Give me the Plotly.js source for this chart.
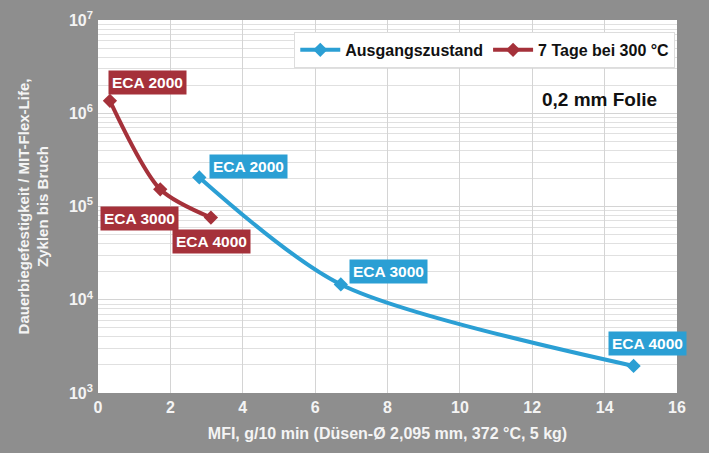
<!DOCTYPE html>
<html>
<head>
<meta charset="utf-8">
<script src="https://cdn.plot.ly/plotly-3.0.1.min.js"></script>
<style>html,body{margin:0;padding:0;background:#8e8e8e;}#chart{width:709px;height:453px;}</style>
</head>
<body>
<div id="chart"></div>
<script>
// Data
var labels = ['ECA 2000', 'ECA 3000', 'ECA 4000'];
var mfiInitial = [2.80, 6.71, 14.80];
var flexInitial = [205000, 14600, 1950];
var mfiAged = [0.33, 1.72, 3.12];
var flexAged = [1360000, 153000, 76000];
var seriesNames = ['Ausgangszustand', '7 Tage bei 300 °C'];
var yTickVals = [1e3, 1e4, 1e5, 1e6, 1e7];
var yTickText = ['10<sup>3</sup>', '10<sup>4</sup>', '10<sup>5</sup>', '10<sup>6</sup>', '10<sup>7</sup>'];

var blue = '#2b9fd4';
var red = '#a5313a';
var fontFam = 'Liberation Sans, Arial, sans-serif';

var traces = [
  {x: mfiInitial, y: flexInitial, name: seriesNames[0], mode: 'lines+markers', type: 'scatter',
   line: {color: blue, width: 4, shape: 'spline', smoothing: 0.8},
   marker: {symbol: 'diamond', size: 11, color: blue}},
  {x: mfiAged, y: flexAged, name: seriesNames[1], mode: 'lines+markers', type: 'scatter',
   line: {color: red, width: 4, shape: 'spline', smoothing: 0.8},
   marker: {symbol: 'diamond', size: 11, color: red}}
];

var blueShifts = [[49, 11], [48, 13], [14, 22]];
var redShifts = [[38, 18], [-21, -29], [1, -24]];
var annotations = [];
function addLabels(xs, ys, shifts, color) {
  for (var i = 0; i < xs.length; i++) {
    annotations.push({
      x: xs[i], y: Math.log10(ys[i]), xref: 'x', yref: 'y',
      text: labels[i], showarrow: false,
      xshift: shifts[i][0], yshift: shifts[i][1],
      bgcolor: color, borderpad: 3,
      font: {family: fontFam, size: 15.5, color: '#ffffff', weight: 'bold'}
    });
  }
}
addLabels(mfiInitial, flexInitial, blueShifts, blue);
addLabels(mfiAged, flexAged, redShifts, red);
annotations.push({
  xref: 'paper', yref: 'paper', x: 0.867, y: 0.788, xanchor: 'center', yanchor: 'middle',
  text: '0,2 mm Folie', showarrow: false,
  font: {family: fontFam, size: 19, color: '#111111', weight: 'bold'}
});

var layout = {
  width: 709, height: 453,
  margin: {l: 98, r: 32, t: 20, b: 60},
  paper_bgcolor: '#8e8e8e',
  plot_bgcolor: '#ffffff',
  font: {family: fontFam, color: '#f4f4f4', weight: 'bold'},
  showlegend: true,
  legend: {
    orientation: 'h', x: 0.339, y: 0.968, xanchor: 'left', yanchor: 'top',
    bgcolor: '#ffffff', bordercolor: '#dddddd', borderwidth: 1,
    font: {family: fontFam, size: 16, color: '#111111', weight: 'bold'},
    itemwidth: 40
  },
  xaxis: {
    range: [0, 16], dtick: 2, tick0: 0,
    showgrid: true, gridcolor: '#d4d4d4', gridwidth: 1,
    zeroline: false, showline: false, ticks: '', ticklabelstandoff: 3,
    tickfont: {family: fontFam, size: 16, color: '#f4f4f4', weight: 'bold'},
    title: {text: 'MFI, g/10 min (Düsen-Ø 2,095 mm, 372 °C, 5 kg)', standoff: 12,
            font: {family: fontFam, size: 16, color: '#f4f4f4', weight: 'bold'}}
  },
  yaxis: {
    type: 'log', range: [3, 7],
    tickvals: yTickVals, ticktext: yTickText,
    showgrid: true, gridcolor: '#d4d4d4', gridwidth: 1,
    minor: {showgrid: true, gridcolor: '#e0e0e0', dtick: 'D1', ticks: ''},
    zeroline: false, showline: false, ticks: '', ticklabelstandoff: 4,
    tickfont: {family: fontFam, size: 16, color: '#f4f4f4', weight: 'bold'},
    title: {text: 'Dauerbiegefestigkeit / MIT-Flex-Life,<br>Zyklen bis Bruch', standoff: 16,
            font: {family: fontFam, size: 15, color: '#f4f4f4', weight: 'bold'}}
  },
  annotations: annotations
};

Plotly.newPlot('chart', traces, layout, {displayModeBar: false, staticPlot: true});
</script>
</body>
</html>
